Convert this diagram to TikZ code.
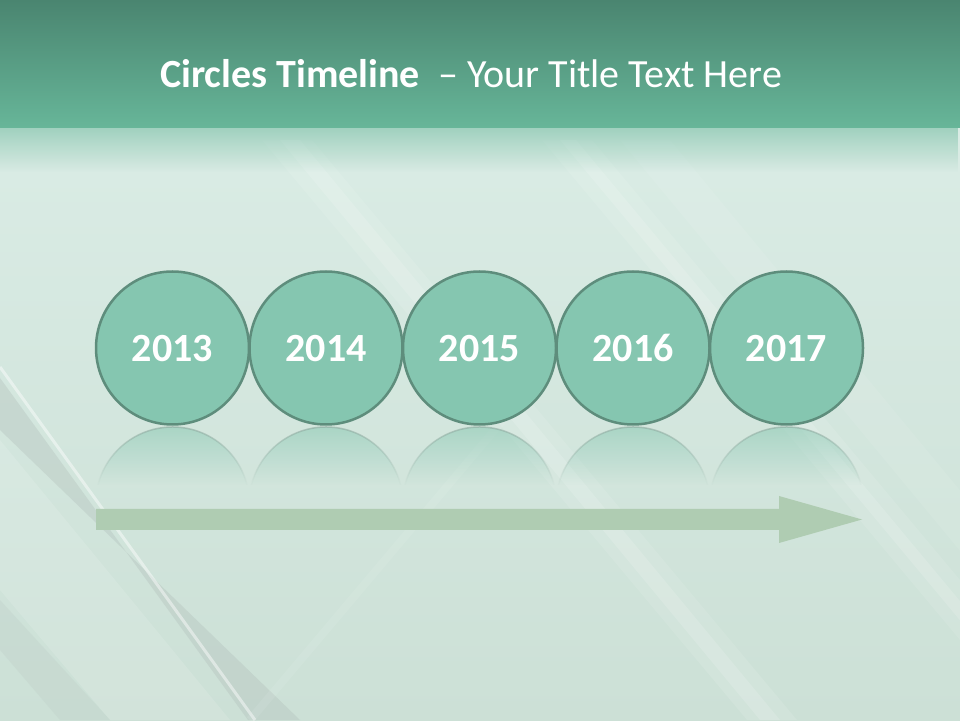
\documentclass[tikz,border=0pt]{standalone}
\usepackage{fontspec}
\setmainfont{Carlito}
\usetikzlibrary{fadings}
\definecolor{hdtop}{HTML}{4A8570}
\definecolor{hdbot}{HTML}{67B699}
\definecolor{bgtop}{HTML}{DAECE5}
\definecolor{bgbot}{HTML}{CCE0D6}
\definecolor{circfill}{HTML}{85C6B0}
\definecolor{circline}{HTML}{5E8D7C}
\definecolor{arrowcol}{HTML}{AFCCB2}
\definecolor{graystreak}{HTML}{B4C2BD}
\definecolor{reflrim}{HTML}{8FAAA0}
\tikzfading[name=reflfade, top color=transparent!40, bottom color=transparent!100]
\tikzfading[name=rimfade, top color=transparent!30, bottom color=transparent!100]
\tikzfading[name=headfade, top color=transparent!50, bottom color=transparent!100]
\tikzset{
  yearcircle/.style={circle, draw=circline, fill=circfill, line width=2.5pt,
    minimum size=153pt, inner sep=0pt, text=white, text height=27pt, text depth=0pt,
    font=\fontsize{40}{48}\selectfont\bfseries},
  titletext/.style={text=white, inner sep=0pt, anchor=base west,
    font=\fontsize{40}{47}\selectfont},
  lightstreak/.style={fill=white, opacity=#1},
  lightstreak/.default=0.25,
  reflbody/.style={fill=circfill, path fading=reflfade},
  refledge/.style={draw=reflrim, line width=1.5pt, path fading=rimfade},
  timearrow/.style={fill=arrowcol}
}
\begin{document}
\begin{tikzpicture}[x=1pt,y=1pt]
\useasboundingbox (0,0) rectangle (960,720);
\begin{scope}
\clip (0,0) rectangle (960,720);
% body background
\shade[top color=bgtop, bottom color=bgbot] (0,0) rectangle (960,592);
% diagonal streaks (upper)
\fill[lightstreak=0.10] (262,580) -- (312,580) -- (797,0) -- (747,0) -- cycle;
\fill[lightstreak=0.14] (280,580) -- (300,580) -- (780,0) -- (760,0) -- cycle;
\fill[lightstreak=0.10] (542,580) -- (592,580) -- (1077,0) -- (1027,0) -- cycle;
\fill[lightstreak=0.14] (560,580) -- (576,580) -- (1059,0) -- (1043,0) -- cycle;
\fill[lightstreak=0.08] (620,580) -- (670,580) -- (1150,0) -- (1100,0) -- cycle;
% lower-left streaks
\fill[lightstreak=0.12] (0,280) -- (0,130) -- (110,0) -- (230,0) -- cycle;
\fill[graystreak, opacity=0.40] (0,342) -- (0,290) -- (300,0) -- (248,0) -- cycle;
\fill[graystreak, opacity=0.20] (0,120) -- (0,70) -- (60,0) -- (110,0) -- cycle;
\draw[white, opacity=0.45, line width=3pt] (0,353) -- (255,0);
\draw[white, opacity=0.08, line width=8pt] (250,0) -- (520,320);
% header
\shade[top color=hdtop, bottom color=hdbot] (0,592) rectangle (960,720);
\fill[hdbot, path fading=headfade] (0,548) rectangle (960,592);
\end{scope}
% title
\node[titletext] (title) at (160,632) {\textbf{Circles Timeline}\ \ – Your Title Text Here};
% reflections
\foreach \cx [count=\i] in {172.5,326,479.5,633,786.5} {
  \fill[reflbody] (\cx+74.6,235) arc[start angle=14.3, end angle=165.7, radius=77] -- cycle;
  \draw[refledge] (\cx+74.6,235) arc[start angle=14.3, end angle=165.7, radius=77];
}
% circles
\node[yearcircle] (c1) at (172.5,372) {2013};
\node[yearcircle] (c2) at (326,372) {2014};
\node[yearcircle] (c3) at (479.5,372) {2015};
\node[yearcircle] (c4) at (633,372) {2016};
\node[yearcircle] (c5) at (786.5,372) {2017};
% arrow
\coordinate (arrstart) at (96,200.5);
\coordinate (arrtip) at (862,200.5);
\fill[timearrow] (arrstart) ++(0,-10.5) -- (779,190) -- (779,177) -- (arrtip) -- (779,224) -- (779,211) -- (96,211) -- cycle;
\end{tikzpicture}
\end{document}
